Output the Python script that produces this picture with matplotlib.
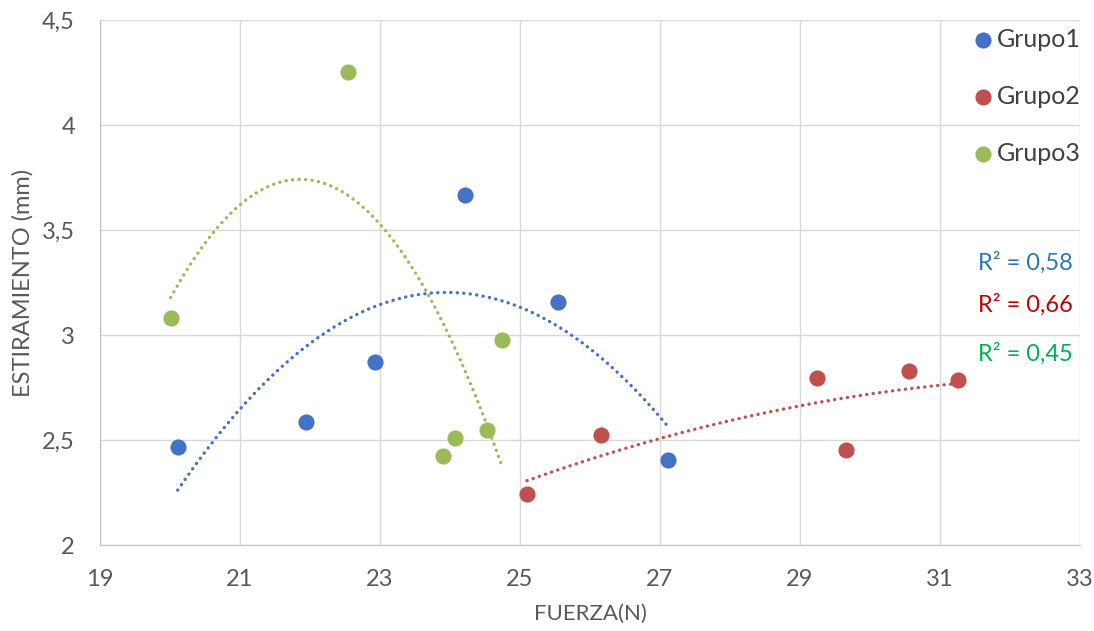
import numpy as np
import matplotlib.pyplot as plt
from matplotlib.ticker import FuncFormatter

plt.rcParams['font.family'] = ['Lato', 'DejaVu Sans']

# datos
g1_x = [20.11, 21.94, 22.93, 24.21, 25.54, 27.11]
g1_y = [2.467, 2.586, 2.871, 3.667, 3.157, 2.405]
g2_x = [25.10, 26.16, 29.24, 29.66, 30.56, 31.26]
g2_y = [2.243, 2.524, 2.795, 2.452, 2.829, 2.786]
g3_x = [20.01, 22.54, 23.90, 24.07, 24.53, 24.74]
g3_y = [3.081, 4.252, 2.424, 2.510, 2.548, 2.976]
labels = ['Grupo1', 'Grupo2', 'Grupo3']
r2_text = ['R² = 0,58', 'R² = 0,66', 'R² = 0,45']

c_blue = '#4472C4'
c_red = '#C0504D'
c_green = '#9BBB59'
txt = '#595959'

fig = plt.figure(figsize=(10.94, 6.31), dpi=100)
ax = fig.add_axes([0.0914, 0.136, 0.8958, 0.832])

dots = dict(linestyle=(0, (0.05, 1.9)), linewidth=2.4,
            dash_capstyle='round', zorder=2)

# tendencias polinomicas grado 2
for xs, ys, c in [(g1_x, g1_y, c_blue), (g2_x, g2_y, c_red),
                  (g3_x, g3_y, c_green)]:
    p = np.polyfit(xs, ys, 2)
    xx = np.linspace(min(xs), max(xs), 200)
    ax.plot(xx, np.polyval(p, xx), color=c, **dots)

for xs, ys, c, lb in [(g1_x, g1_y, c_blue, labels[0]),
                      (g2_x, g2_y, c_red, labels[1]),
                      (g3_x, g3_y, c_green, labels[2])]:
    ax.scatter(xs, ys, s=135, color=c, label=lb, zorder=3, linewidths=0)

ax.set_xlim(19, 33)
ax.set_ylim(2, 4.5)
ax.set_xticks(np.arange(19, 34, 2))
ax.set_yticks(np.arange(2, 4.51, 0.5))
ax.yaxis.set_major_formatter(FuncFormatter(
    lambda v, pos: ('%g' % v).replace('.', ',')))
ax.grid(True, color='#D9D9D9', linewidth=1)
ax.set_axisbelow(True)
for s in ['top', 'right']:
    ax.spines[s].set_visible(False)
for s in ['left', 'bottom']:
    ax.spines[s].set_color('#BFBFBF')
ax.tick_params(length=0, labelsize=17, colors=txt)
ax.tick_params(axis='x', pad=17)
ax.tick_params(axis='y', pad=18)

ax.set_xlabel('FUERZA(N)', fontsize=16, color=txt, labelpad=10)
ax.set_ylabel('ESTIRAMIENTO (mm)', fontsize=17, color=txt, labelpad=6)

leg = ax.legend(loc='upper right', bbox_to_anchor=(1.008, 1.0), frameon=False,
                fontsize=18, labelspacing=1.36, handletextpad=-0.45,
                borderaxespad=0.0, borderpad=0.3)
for t in leg.get_texts():
    t.set_color('#404040')

r2_pos = [0.538, 0.458, 0.364]
for t, yp, c in zip(r2_text, r2_pos, ['#2E75B6', '#C00000', '#00B050']):
    ax.text(0.993, yp, t, transform=ax.transAxes, ha='right', va='center',
            fontsize=17, color=c)

fig.savefig('out.png', dpi=100)
